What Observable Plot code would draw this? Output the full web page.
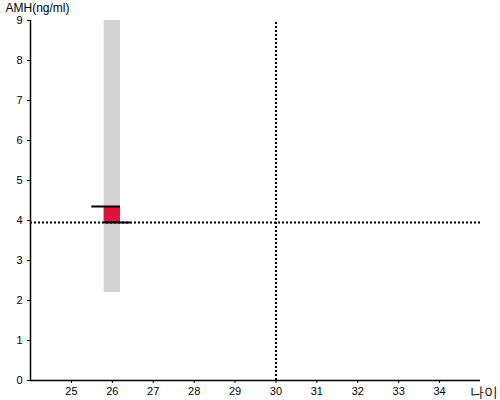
<!DOCTYPE html>
<html><head><meta charset="utf-8">
<script src="https://cdn.jsdelivr.net/npm/d3@7"></script>
<script src="https://cdn.jsdelivr.net/npm/@observablehq/plot@0.6"></script>
<style>
body{margin:0;background:#fff}
#chart svg{font-family:"Liberation Sans",Arial,sans-serif;font-size:11px;overflow:visible;display:block}
</style>
</head><body><div id="chart"></div>
<script>
const ageTicks = [25, 26, 27, 28, 29, 30, 31, 32, 33, 34];
const amhTicks = [0, 1, 2, 3, 4, 5, 6, 7, 8, 9];
const ageDomain = [24, 35];
const amhDomain = [0, 9];
const bandAge0 = [25.8];
const bandAge1 = [26.2];
const bandLow = [2.2];
const bandHigh = [9];
const boxLow = [3.95];
const boxHigh = [4.35];
const markerAge0 = [25.5, 25.8];
const markerAge1 = [26.2, 26.45];
const markerAmh = [4.35, 3.95];
const refAge = [30];
const refAmh = [3.95];
const yTitle = "AMH(ng/ml)";
const xTitle = "나이";

const band = bandAge0.map((a, i) => ({a0: a, a1: bandAge1[i], lo: bandLow[i], hi: bandHigh[i]}));
const box = bandAge0.map((a, i) => ({a0: a, a1: bandAge1[i], lo: boxLow[i], hi: boxHigh[i]}));
const markers = markerAmh.map((v, i) => ({a0: markerAge0[i], a1: markerAge1[i], v}));

const chart = Plot.plot({
  width: 500, height: 400,
  marginLeft: 30, marginRight: 20, marginTop: 20, marginBottom: 20,
  x: {domain: ageDomain},
  y: {domain: amhDomain},
  marks: [
    Plot.rectY(band, {x1: "a0", x2: "a1", y1: "lo", y2: "hi", fill: "#d3d3d3"}),
    Plot.rectY(box, {x1: "a0", x2: "a1", y1: "lo", y2: "hi", fill: "#dc143c"}),
    Plot.ruleY(refAmh, {x1: ageDomain[0], x2: ageDomain[1], stroke: "black", strokeWidth: 2, strokeDasharray: "2,2"}),
    Plot.ruleX(refAge, {y1: amhDomain[0], y2: amhDomain[1], stroke: "black", strokeWidth: 2, strokeDasharray: "2,2"}),
    Plot.ruleY(markers, {x1: "a0", x2: "a1", y: "v", stroke: "black", strokeWidth: 2}),
    Plot.ruleX([ageDomain[0]], {stroke: "black", strokeWidth: 1.5}),
    Plot.ruleY([amhDomain[0]], {stroke: "black", strokeWidth: 1.5}),
    Plot.axisX(ageTicks, {tickSize: 3, tickPadding: 4, label: null, fill: "black", fontSize: 11}),
    Plot.axisY(amhTicks, {tickSize: 3, tickPadding: 5, label: null, fill: "black", fontSize: 11}),
    Plot.text([yTitle], {frameAnchor: "top-left", dx: -25, dy: -12, textAnchor: "start", lineAnchor: "middle", fontSize: 12, fill: "black"}),
    Plot.text([xTitle], {frameAnchor: "bottom-right", dx: 17, dy: 12, textAnchor: "end", lineAnchor: "middle", fontSize: 14, fill: "black"})
  ]
});
document.getElementById("chart").appendChild(chart);
</script>
</body></html>
